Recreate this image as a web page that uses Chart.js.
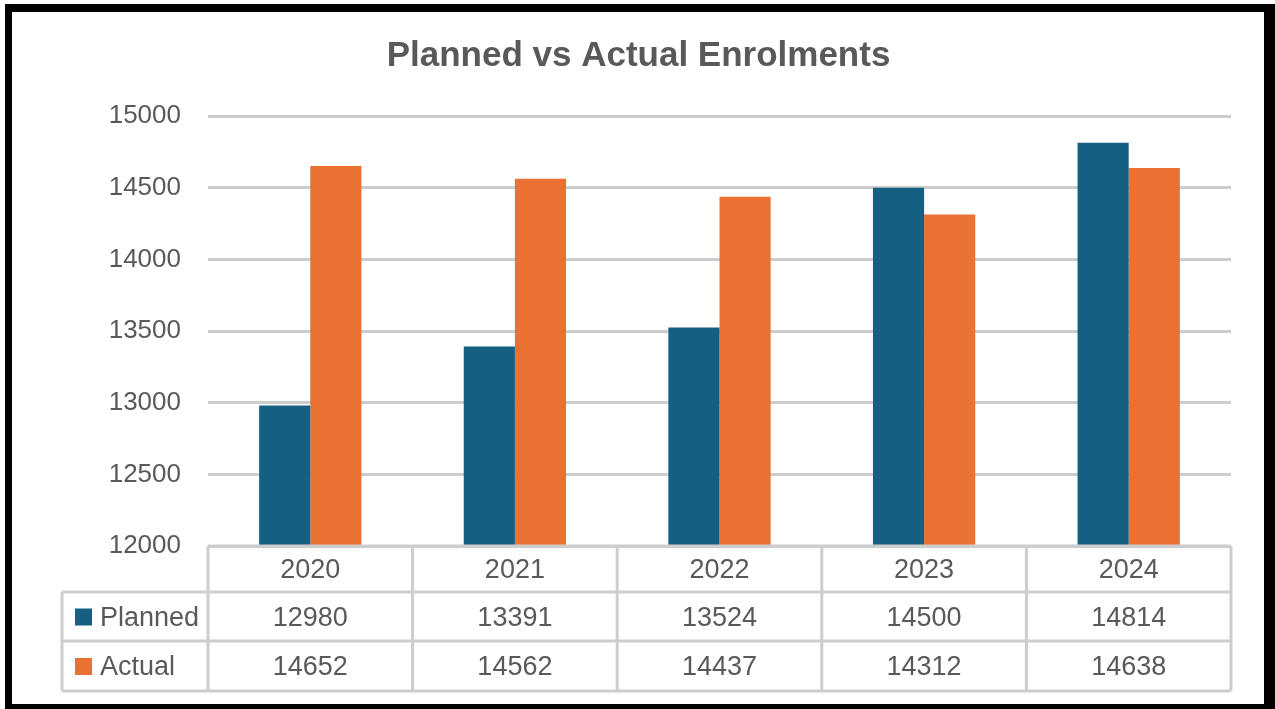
<!DOCTYPE html>
<html>
<head>
    <script src="https://cdn.jsdelivr.net/npm/chart.js@4.4.1/dist/chart.umd.min.js"></script>
    <title>Planned vs Actual Enrolments</title>
    <style>
        body { margin: 0; background: #ffffff; }
        #wrap { position: relative; width: 1275px; height: 709px; overflow: hidden; }
        #enrolChart { position: absolute; left: 0; top: 0; }
        .frame {
            position: absolute; left: 5px; top: 4px;
            width: 1270px; height: 706px; box-sizing: border-box;
            border-style: solid; border-color: #000000;
            border-width: 8px 11px 6px 7px;
            pointer-events: none;
        }
    </style>
</head>
<body>
    <div id="wrap">
        <canvas id="enrolChart" width="1275" height="709"></canvas>
        <div class="frame"></div>
    </div>

    <script>
    // chart data
    const years = ['2020', '2021', '2022', '2023', '2024'];
    const planned = [12980, 13391, 13524, 14500, 14814];
    const actual = [14652, 14562, 14437, 14312, 14638];
    const yMin = 12000, yMax = 15000, yStep = 500;

    const textCol = '#595959';
    const lineCol = '#cdcdcd';
    const plannedCol = '#156082';
    const actualCol = '#e97132';

    Chart.defaults.font.family = "'Liberation Sans', Arial, sans-serif";
    Chart.defaults.color = textCol;

    // data table drawn under the plot, lined up with the category scale
    const dataTable = {
        id: 'dataTable',
        afterDraw(chart) {
            const ctx = chart.ctx;
            const area = chart.chartArea;
            const step = (area.right - area.left) / years.length;
            const legendLeft = 62;
            const top = area.bottom;
            const rowY = [top, top + 46, top + 95, top + 145];

            ctx.save();
            ctx.strokeStyle = lineCol;
            ctx.lineWidth = 3;
            ctx.beginPath();
            // header row top (only over the year columns)
            ctx.moveTo(area.left, rowY[0]); ctx.lineTo(area.right, rowY[0]);
            for (let r = 1; r < rowY.length; r++) {
                ctx.moveTo(legendLeft, rowY[r]); ctx.lineTo(area.right, rowY[r]);
            }
            for (let i = 0; i <= years.length; i++) {
                const x = area.left + i * step;
                ctx.moveTo(x, rowY[0]); ctx.lineTo(x, rowY[3]);
            }
            ctx.moveTo(legendLeft, rowY[1]); ctx.lineTo(legendLeft, rowY[3]);
            ctx.stroke();

            ctx.fillStyle = textCol;
            ctx.font = "27px 'Liberation Sans', Arial, sans-serif";
            ctx.textAlign = 'center';
            ctx.textBaseline = 'middle';
            const rows = [years, planned, actual];
            for (let r = 0; r < rows.length; r++) {
                const cy = (rowY[r] + rowY[r + 1]) / 2 + 2;
                rows[r].forEach(function(v, i) {
                    ctx.fillText(String(v), chart.scales.x.getPixelForValue(i), cy);
                });
            }

            // legend keys
            const series = [['Planned', plannedCol], ['Actual', actualCol]];
            ctx.textAlign = 'left';
            series.forEach(function(s, k) {
                const cy = (rowY[k + 1] + rowY[k + 2]) / 2;
                ctx.fillStyle = s[1];
                ctx.fillRect(75, cy - 8, 17, 17);
                ctx.fillStyle = textCol;
                ctx.fillText(s[0], 100, cy + 2);
            });
            ctx.restore();
        }
    };

    new Chart(document.getElementById('enrolChart'), {
        type: 'bar',
        data: {
            labels: years,
            datasets: [{
                label: 'Planned',
                data: planned,
                backgroundColor: plannedCol,
                categoryPercentage: 0.5,
                barPercentage: 1
            }, {
                label: 'Actual',
                data: actual,
                backgroundColor: actualCol,
                categoryPercentage: 0.5,
                barPercentage: 1
            }]
        },
        options: {
            responsive: false,
            animation: false,
            devicePixelRatio: 1,
            layout: { padding: { left: 46, right: 44, top: 0, bottom: 163 } },
            plugins: {
                legend: { display: false },
                tooltip: { enabled: false },
                title: {
                    display: true,
                    text: 'Planned vs Actual Enrolments',
                    color: textCol,
                    font: { size: 35, weight: 'bold' },
                    padding: { top: 35, bottom: 39 }
                }
            },
            scales: {
                x: { display: false },
                y: {
                    min: yMin,
                    max: yMax,
                    afterFit: function(scale) { scale.width = 162; },
                    border: { display: false },
                    grid: { color: lineCol, lineWidth: 3, drawTicks: false },
                    ticks: {
                        stepSize: yStep,
                        padding: 27,
                        color: textCol,
                        font: { size: 26 },
                        callback: function(v) { return String(v); }
                    }
                }
            }
        },
        plugins: [dataTable]
    });
    </script>
</body>
</html>
